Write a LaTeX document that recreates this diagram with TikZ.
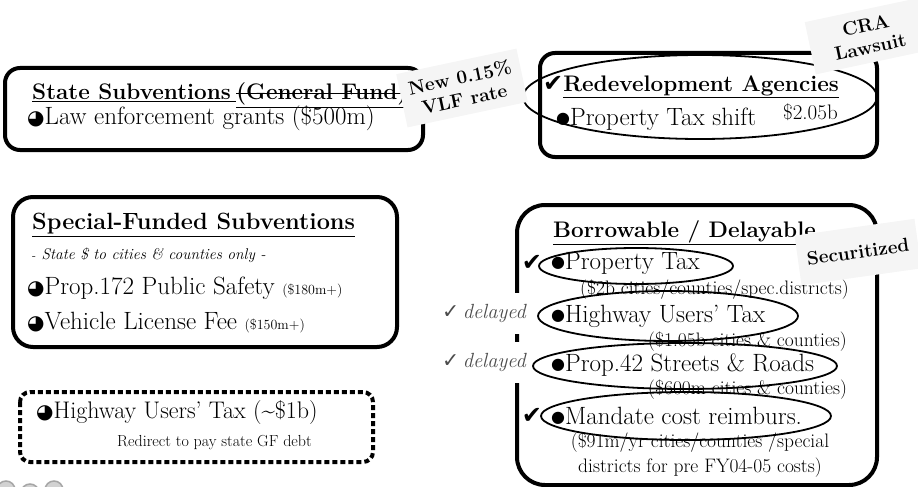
\documentclass[tikz,border=0pt]{standalone}
\usepackage{fontspec}
\usepackage{tikz}
\usetikzlibrary{positioning}

\newfontfamily\dingfont{DejaVu Sans}
\newcommand{\pieball}{{\dingfont\fontsize{20}{20}\selectfont ◕}}
\newcommand{\dotball}{\raisebox{1.5pt}{\dingfont\fontsize{16}{16}\selectfont ●}}
\newcommand{\bigtick}{{\dingfont\fontsize{24}{24}\selectfont ✔}}

\tikzset{
    bigbox/.style={line width=4pt, rounded corners=15pt},
    dotbox/.style={bigbox, dash pattern=on 5pt off 3pt, rounded corners=10pt},
    ring/.style={line width=1.8pt},
    sticky/.style={fill=gray!8, font=\bfseries\fontsize{19}{22}\selectfont, align=center, inner xsep=9pt, inner ysep=9pt},
    head/.style={anchor=west, inner sep=0pt, font=\bfseries\fontsize{22.5}{24}\selectfont},
    entry/.style={anchor=west, inner sep=0pt, font=\fontsize{25}{27}\selectfont},
    fine/.style={anchor=west, inner sep=0pt, font=\fontsize{19.5}{25}\selectfont},
    late/.style={anchor=east, fill=white, minimum height=41pt, inner xsep=2pt, text=black!70, font=\itshape\fontsize{20.5}{22}\selectfont},
}

\begin{document}
\begin{tikzpicture}[x=1pt, y=-1pt]
        \useasboundingbox (0, 0) rectangle (918, 487);
        % outlines
        \draw [bigbox] (5, 68) rectangle (423, 150);
        \draw [bigbox] (540, 53) rectangle (877, 157);
        \draw [bigbox, rounded corners=20pt] (13, 197) rectangle (397, 347);
        \draw [dotbox] (20, 392) rectangle (373, 462);
        \draw [bigbox, rounded corners=28pt] (517, 205) rectangle (877, 485);
        % state subventions
        \node [head] (ssub) at (32, 93) {\underline{State Subventions\hspace{5pt}}};
        \node [head, anchor=base west] (gfund) at (ssub.base east) {\underline{(General Fund)}};
        \draw [line width=1.5pt] ([yshift=6pt]gfund.base west) -- ([yshift=6pt]gfund.base east);
        \node [entry] (law) at (27, 118) {\pieball Law enforcement grants (\$500m)};
        % redevelopment
        \node [head] (rda) at (543, 87) {\bigtick\underline{Redevelopment Agencies}};
        \node [entry] (ptshift) at (556, 119) {\dotball Property Tax shift};
        \node [entry, font=\fontsize{21}{22}\selectfont] (rdasum) at (783, 112) {\$2.05b};
        % special funded
        \node [head, font=\bfseries\fontsize{23.5}{25}\selectfont] (sfs) at (32, 225) {\underline{Special-Funded Subventions}};
        \node [anchor=west, inner sep=0pt, font=\itshape\fontsize{15.5}{17}\selectfont] (sfsnote) at (32, 255) {{\upshape\large -} State \$ to cities \& counties only -};
        \node [entry] (p172) at (27, 288) {\pieball Prop.172 Public Safety {\fontsize{14}{16}\selectfont (\$180m+)}};
        \node [entry] (vlf) at (27, 323) {\pieball Vehicle License Fee {\fontsize{14}{16}\selectfont (\$150m+)}};
        % highway users tax
        \node [entry, font=\fontsize{24}{26}\selectfont] (hut) at (36, 413) {\pieball Highway Users' Tax (\textasciitilde\$1b)};
        \node [anchor=west, inner sep=0pt, font=\fontsize{16}{18}\selectfont] (gfdebt) at (117, 443) {Redirect to pay state GF debt};
        % borrowable
        \node [head] (bd) at (553, 233) {\underline{Borrowable / Delayable}};
        \node (chk1) at (532, 263) {\bigtick};
        \node [entry] (ptax) at (551, 263) {\dotball Property Tax};
        \node [fine] (ptaxsum) at (580, 290) {(\$2b cities/counties/spec.districts)};
        \node [entry] (hwy) at (551, 316) {\dotball Highway Users' Tax};
        \node [fine] (hwysum) at (648, 342) {(\$1.05b cities \& counties)};
        \node [entry] (p42) at (551, 365) {\dotball Prop.42 Streets \& Roads};
        \node [fine] (p42sum) at (648, 390) {(\$600m cities \& counties)};
        \node (chk4) at (532, 416) {\bigtick};
        \node [entry] (mand) at (551, 416) {\dotball Mandate cost reimburs.};
        \node [fine, anchor=center, align=center] (mandsum) at (700, 455) {(\$91m/yr cities/counties /special\\districts for pre FY04-05 costs)};
        \node [late] (late1) at (528, 313) {{\dingfont ✓}\,delayed};
        \node [late] (late2) at (528, 362) {{\dingfont ✓}\,delayed};
        % hand drawn rings
        \draw [ring] (700, 97) ellipse [x radius=177pt, y radius=42pt];
        \draw [ring] (636, 266) ellipse [x radius=97pt, y radius=18pt];
        \draw [ring] (668, 316) ellipse [x radius=130pt, y radius=25pt];
        \draw [ring] (685, 366) ellipse [x radius=152pt, y radius=23pt];
        \draw [ring] (686, 416) ellipse [x radius=145pt, y radius=24pt];
        % sticky notes
        \node [sticky, rotate=12] (vlfnote) at (462, 88) {New 0.15\%\\VLF rate};
        \node [sticky, rotate=12, minimum width=118pt] (cranote) at (868, 36) {CRA\\Lawsuit};
        \node [sticky, rotate=8, minimum height=50pt] (secnote) at (858, 252) {Securitized};
        % clipart scrap
        \foreach \cx/\cy in {6/490, 30/493, 54/490}{
            \draw [gray!70, fill=gray!35, line width=1.5pt] (\cx, \cy) circle [radius=9pt];
        }
\end{tikzpicture}
\end{document}
